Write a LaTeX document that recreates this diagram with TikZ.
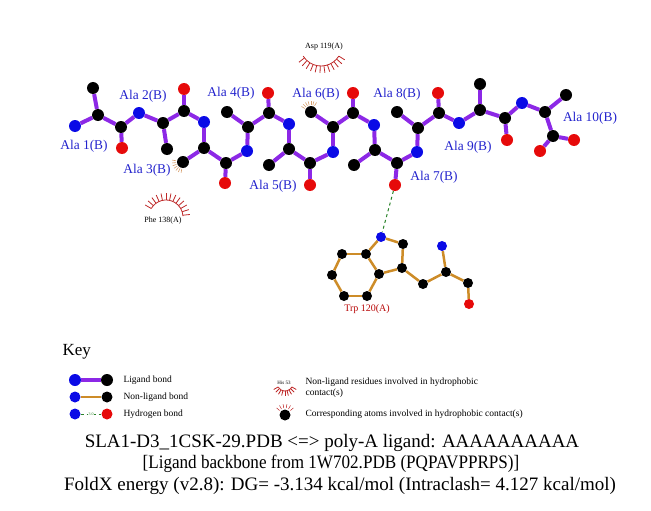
\documentclass[tikz,border=0pt]{standalone}
\usepackage{fontspec}
\setmainfont{Liberation Serif}
\definecolor{atomblue}{RGB}{10,10,230}
\definecolor{atomred}{RGB}{230,10,10}
\definecolor{ligpurple}{RGB}{140,40,230}
\definecolor{nlorange}{RGB}{205,140,40}
\definecolor{hbgreen}{RGB}{40,130,40}
\definecolor{labblue}{RGB}{35,35,205}
\definecolor{hydred}{RGB}{190,40,40}
\definecolor{hydtan}{RGB}{215,160,110}
\begin{document}
\begin{tikzpicture}[x=1pt,y=-1pt,
    atom/.style={circle,inner sep=0pt,minimum size=12pt},
    catom/.style={atom,fill=black},
    natom/.style={atom,fill=atomblue},
    oatom/.style={atom,fill=atomred},
    tcatom/.style={catom,minimum size=10pt},
    tnatom/.style={natom,minimum size=10pt},
    toatom/.style={oatom,minimum size=10pt},
    lig/.style={draw=ligpurple,line width=4pt},
    nonlig/.style={draw=nlorange,line width=2.5pt},
    hbond/.style={draw=hbgreen,dashed,line width=1pt},
    hyd/.style={draw=hydred,line width=0.8pt},
    hydatom/.style={draw=hydtan,line width=0.6pt},
    alalab/.style={text=labblue,font=\fontsize{13.4}{15}\selectfont},
    reslab/.style={font=\fontsize{8}{9}\selectfont},
    keylab/.style={anchor=west,font=\fontsize{9.5}{11}\selectfont}]

    \useasboundingbox (0,0) rectangle (651,511);

    % ligand atoms
    \node[natom] (n1) at (75,126) {};
    \node[catom] (ca1) at (98,115) {};
    \node[catom] (cb1) at (93,88) {};
    \node[catom] (c1) at (121,127) {};
    \node[oatom] (o1) at (122,148) {};
    \node[natom] (n2) at (139,113) {};
    \node[catom] (ca2) at (163,123) {};
    \node[catom] (cb2) at (167,149) {};
    \node[catom] (c2) at (184,111) {};
    \node[oatom] (o2) at (184,89) {};
    \node[natom] (n3) at (204,122) {};
    \node[catom] (ca3) at (204,148) {};
    \node[catom] (cb3) at (183,162) {};
    \node[catom] (c3) at (226,163) {};
    \node[oatom] (o3) at (225,183) {};
    \node[natom] (n4) at (247,151) {};
    \node[catom] (ca4) at (248,127) {};
    \node[catom] (cb4) at (227,112) {};
    \node[catom] (c4) at (269,113) {};
    \node[oatom] (o4) at (268,93) {};
    \node[natom] (n5) at (289,124) {};
    \node[catom] (ca5) at (289,149) {};
    \node[catom] (cb5) at (269,165) {};
    \node[catom] (c5) at (310,163) {};
    \node[oatom] (o5) at (310,185) {};
    \node[natom] (n6) at (333,152) {};
    \node[catom] (ca6) at (333,127) {};
    \node[catom] (cb6) at (311,112) {};
    \node[catom] (c6) at (353,113) {};
    \node[oatom] (o6) at (353,93) {};
    \node[natom] (n7) at (374,125) {};
    \node[catom] (ca7) at (375,150) {};
    \node[catom] (cb7) at (354,165) {};
    \node[catom] (c7) at (397,163) {};
    \node[oatom] (o7) at (395,185) {};
    \node[natom] (n8) at (417,152) {};
    \node[catom] (ca8) at (418,128) {};
    \node[catom] (cb8) at (397,112) {};
    \node[catom] (c8) at (439,113) {};
    \node[oatom] (o8) at (438,93) {};
    \node[natom] (n9) at (459,123) {};
    \node[catom] (ca9) at (480,110) {};
    \node[catom] (cb9) at (480,84) {};
    \node[catom] (c9) at (505,118) {};
    \node[oatom] (o9) at (507,140) {};
    \node[natom] (n10) at (522,103) {};
    \node[catom] (ca10) at (545,112) {};
    \node[catom] (cb10) at (566,95) {};
    \node[catom] (c10) at (553,136) {};
    \node[oatom] (o10) at (574,140) {};
    \node[oatom] (oxt) at (540,151) {};

    % ligand bonds
    \foreach \i/\j in {1/2,2/3,3/4,4/5,5/6,6/7,7/8,8/9,9/10} {
        \draw[lig] (n\i) -- (ca\i);
        \draw[lig] (ca\i) -- (cb\i);
        \draw[lig] (ca\i) -- (c\i);
        \draw[lig] (c\i) -- (o\i);
        \draw[lig] (c\i) -- (n\j);
    }
    \draw[lig] (n10) -- (ca10);
    \draw[lig] (ca10) -- (cb10);
    \draw[lig] (ca10) -- (c10);
    \draw[lig] (c10) -- (o10);
    \draw[lig] (c10) -- (oxt);

    % residue labels
    \node[alalab] (lab1) at (84,146) {Ala 1(B)};
    \node[alalab] (lab2) at (143,96) {Ala 2(B)};
    \node[alalab] (lab3) at (147,170) {Ala 3(B)};
    \node[alalab] (lab4) at (231,93) {Ala 4(B)};
    \node[alalab] (lab5) at (273,186) {Ala 5(B)};
    \node[alalab] (lab6) at (316,94) {Ala 6(B)};
    \node[alalab] (lab7) at (434,177) {Ala 7(B)};
    \node[alalab] (lab8) at (397,94) {Ala 8(B)};
    \node[alalab] (lab9) at (468,147) {Ala 9(B)};
    \node[alalab] (lab10) at (590,118) {Ala 10(B)};

    % Trp 120 side chain
    \node[tnatom] (ne1) at (381,237) {};
    \node[tcatom] (cd1) at (403,244) {};
    \node[tcatom] (cg) at (402,268) {};
    \node[tcatom] (cd2) at (379,274) {};
    \node[tcatom] (ce2) at (366,254) {};
    \node[tcatom] (cz2) at (342,254) {};
    \node[tcatom] (ch2) at (332,275) {};
    \node[tcatom] (cz3) at (344,296) {};
    \node[tcatom] (ce3) at (367,296) {};
    \node[tcatom] (cbw) at (423,284) {};
    \node[tcatom] (caw) at (446,272) {};
    \node[tnatom] (nw) at (442,246) {};
    \node[tcatom] (cw) at (468,283) {};
    \node[toatom] (ow) at (469,304) {};
    \foreach \a/\b in {ne1/cd1,cd1/cg,cg/cd2,cd2/ce2,ce2/ne1,ce2/cz2,cz2/ch2,ch2/cz3,cz3/ce3,ce3/cd2,cg/cbw,cbw/caw,caw/nw,caw/cw,cw/ow}
        \draw[nonlig] (\a) -- (\b);
    \node[text=atomred!80!black,font=\fontsize{10}{11}\selectfont] (trp) at (367,309) {Trp 120(A)};

    % hydrogen bond
    \draw[hbond] (o7) -- (ne1);

    % hydrophobic contacts
    \coordinate (asp) at (321,45);
    \draw[hyd] (asp) ++(32:21) arc (32:148:21);
    \foreach \a in {32,42,...,148} \draw[hyd] (asp) ++(\a:21) -- ++(\a:7);
    \node[reslab] (asplab) at (324,47) {Asp 119(A)};

    \coordinate (phe) at (166,217);
    \draw[hyd] (phe) ++(210:17) arc (210:357:17);
    \foreach \a in {210,222,...,357} \draw[hyd] (phe) ++(\a:17) -- ++(\a:7);
    \node[reslab] (phelab) at (163,221) {Phe 138(A)};

    \foreach \a in {100,115,...,190} \draw[hydatom] (cb3) ++(\a:7) -- ++(\a:4);
    \foreach \a in {210,225,...,300} \draw[hydatom] (cb6) ++(\a:7) -- ++(\a:4);

    % Key
    \node[anchor=west,font=\fontsize{17}{19}\selectfont] (key) at (59,352) {Key};

    \node[natom] (kn1) at (75,380) {};
    \node[catom] (kc1) at (107,380) {};
    \draw[lig] (kn1) -- (kc1);
    \node[keylab] at (120,380) {Ligand bond};

    \node[natom,minimum size=11pt] (kn2) at (75,397) {};
    \node[catom,minimum size=11pt] (kc2) at (107,397) {};
    \draw[nonlig] (kn2) -- (kc2);
    \node[keylab] at (120,397) {Non-ligand bond};

    \node[natom,minimum size=11pt] (kn3) at (75,414) {};
    \node[oatom,minimum size=11pt] (ko3) at (107,414) {};
    \draw[hbond,line width=0.6pt] (kn3) -- (ko3) node[midway,fill=white,inner sep=0.5pt,text=hbgreen,font=\fontsize{4}{4}\selectfont] {3.0};
    \node[keylab] at (120,414) {Hydrogen bond};

    \coordinate (his) at (285,383);
    \draw[hyd] (his) ++(30:8) arc (30:150:8);
    \foreach \a in {30,45,...,150} \draw[hyd] (his) ++(\a:8) -- ++(\a:5);
    \node[font=\fontsize{5}{6}\selectfont] (hislab) at (284,383) {His 53};
    \node[keylab,align=left,anchor=north west] at (302,374) {Non-ligand residues involved in hydrophobic\\contact(s)};

    \node[catom,minimum size=11pt] (kc4) at (285,415) {};
    \foreach \a in {220,240,...,320} \draw[hyd,line width=0.5pt] (kc4) ++(\a:7) -- ++(\a:4);
    \node[keylab] at (302,414) {Corresponding atoms involved in hydrophobic contact(s)};

    % Title
    \node[font=\fontsize{19}{21}\selectfont] (t1) at (332,443) {SLA1-D3\_1CSK-29.PDB <=> poly-A ligand: AAAAAAAAAA};
    \node[font=\fontsize{19}{21}\selectfont,xscale=0.9] (t2) at (331,464) {[Ligand backbone from 1W702.PDB (PQPAVPPRPS)]};
    \node[font=\fontsize{19}{21}\selectfont] (t3) at (340,486) {FoldX energy (v2.8): DG= -3.134 kcal/mol (Intraclash= 4.127 kcal/mol)};

\end{tikzpicture}
\end{document}
